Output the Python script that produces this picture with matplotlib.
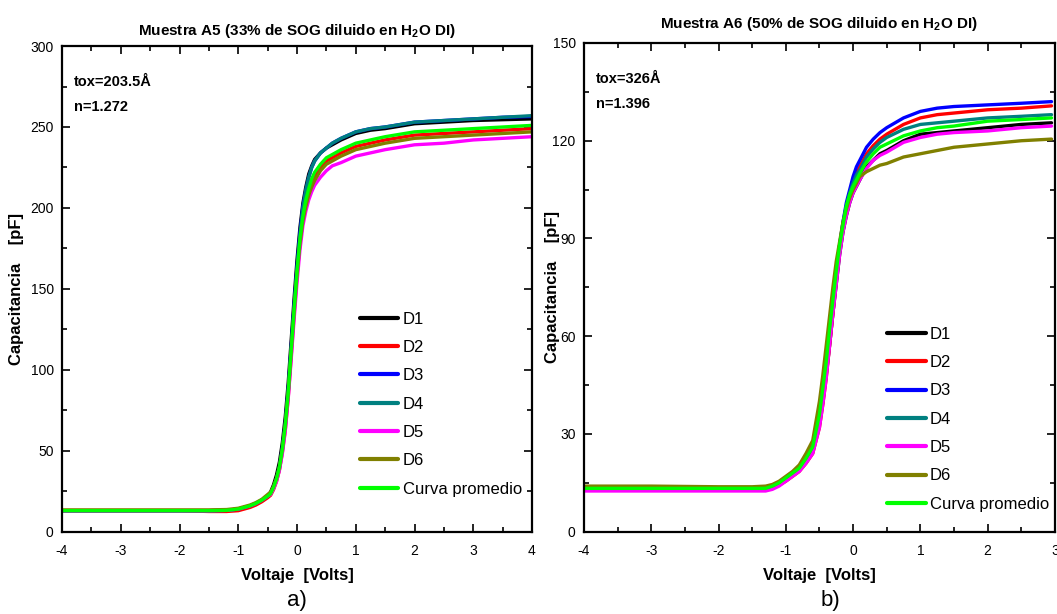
import matplotlib
matplotlib.use("Agg")
from matplotlib import pyplot as plt
from matplotlib.ticker import MultipleLocator

plt.rcParams['font.family'] = ['Liberation Sans', 'DejaVu Sans']
plt.rcParams['mathtext.fontset'] = 'custom'
plt.rcParams['mathtext.rm'] = 'Liberation Sans:bold'
plt.rcParams['mathtext.bf'] = 'Liberation Sans:bold'
plt.rcParams['axes.unicode_minus'] = False

labels = ["D1", "D2", "D3", "D4", "D5", "D6", "Curva promedio"]
colors = ["#000000", "#ff0000", "#0000ff", "#008080", "#ff00ff", "#808000", "#00ff00"]

# Muestra A5
v_a5 = [-4, -3, -2, -1.5, -1.2, -1, -0.9, -0.8, -0.7, -0.6, -0.5, -0.45, -0.4, -0.35,
        -0.3, -0.25, -0.2, -0.15, -0.1, -0.05, 0, 0.05, 0.1, 0.15, 0.2, 0.25,
        0.3, 0.4, 0.5, 0.6, 0.75, 1, 1.25, 1.5, 2, 2.5, 3, 3.5, 4]
a5_d1 = [13, 13, 13, 13, 13.2, 14, 15, 16, 17.5, 19.5, 22, 24.5, 29, 35, 43, 55, 71, 92, 118, 144,
         168, 188, 203, 213, 221, 226, 230, 234, 237, 239, 242, 246, 248, 249, 252, 253, 254, 254.5, 255]
a5_d2 = [13, 13, 13, 12.5, 12.5, 13, 14, 15, 16.5, 18.5, 21, 22.5, 26, 31, 38, 49, 63, 83, 108, 134,
         158, 178, 193, 203, 210, 215, 219, 225, 229, 231, 234, 238, 240, 242, 245, 246, 247, 248, 249]
a5_d3 = [13, 13, 13, 13, 13.2, 14, 15, 16, 17.5, 19.5, 22, 23.5, 27.5, 33, 40, 52, 67, 88, 114, 140,
         164, 185, 201, 211, 219, 225, 229, 234, 237, 240, 243, 247, 249, 250, 253, 254, 255, 256, 256.5]
a5_d4 = [13, 13, 13, 13, 13.2, 14, 15, 16, 17.5, 19.5, 22, 23.5, 27, 32, 39, 50, 65, 86, 112, 138,
         162, 183, 200, 211, 219, 225, 229, 234, 237, 240, 243, 247, 249, 250, 253, 254, 255, 256, 257]
a5_d5 = [13, 13, 13, 13, 13.2, 14, 15, 16, 17.5, 19.5, 22, 23, 26.5, 31, 38, 48, 62, 82, 106, 131,
         154, 174, 189, 198, 205, 210, 214, 219, 223, 226, 228, 232, 234, 236, 239, 240, 242, 243, 244]
a5_d6 = [13.5, 13.5, 13.5, 13.5, 13.7, 14.5, 15.5, 16.5, 18, 20, 23, 24.5, 28, 33, 40, 51, 66, 86, 111, 136,
         159, 178, 192, 201, 208, 213, 217, 223, 227, 229, 232, 236, 238, 240, 243, 244, 245, 246, 247]
a5_avg = [13, 13, 13, 13, 13.2, 14, 15, 16, 17.5, 19.5, 22, 23.5, 27.5, 32.5, 40, 51, 66, 86, 112, 137,
          161, 181, 195, 205, 212, 218, 222, 227, 231, 233, 236, 240, 242, 244, 247, 248, 249, 250, 251]

# Muestra A6
v_a6 = [-4, -3, -2, -1.5, -1.3, -1.2, -1.1, -1, -0.9, -0.8, -0.7, -0.6, -0.5, -0.45, -0.4,
        -0.35, -0.3, -0.25, -0.2, -0.15, -0.1, -0.05, 0, 0.05, 0.1, 0.2, 0.3, 0.4, 0.5,
        0.75, 1, 1.25, 1.5, 2, 2.5, 2.95]
a6_d1 = [13, 13, 13, 13, 13, 13.5, 14.5, 16, 17.5, 19, 21.5, 25, 33, 40, 48, 57, 67, 76, 85, 92,
         97, 101, 104, 106, 108, 112, 114, 116, 117, 120, 122, 122.5, 123, 124, 125, 125.5]
a6_d2 = [13, 13, 13, 13, 13, 13.5, 14.3, 15.5, 17, 18.5, 21, 24, 32, 39, 47, 57, 67, 77, 86, 93,
         99, 103, 107, 110, 112, 116, 118.5, 120.5, 122, 125, 127, 128, 128.5, 129.5, 130, 130.7]
a6_d3 = [13, 13, 13, 13, 13, 13.5, 14.5, 16, 17.5, 19, 21.5, 25, 34, 42, 50, 60, 70, 80, 88, 95,
         101, 105, 109, 112, 114, 118, 120.5, 122.5, 124, 127, 129, 130, 130.5, 131, 131.5, 132]
a6_d4 = [13.5, 13.5, 13.5, 13.5, 13.5, 14, 15, 16.5, 18, 19.5, 22.5, 26, 35, 43, 51, 61, 71, 80, 88, 95,
         100, 104, 107, 109.5, 111, 115, 117.5, 119.5, 121, 123.5, 125, 125.5, 126, 127, 127.5, 128]
a6_d5 = [12.5, 12.5, 12.5, 12.5, 12.5, 13, 14, 15.5, 17, 18.5, 21, 24, 32, 39, 47, 57, 67, 76, 85, 92,
         97, 101, 104, 106, 108, 111.5, 114, 115.5, 116.5, 119.5, 121, 122, 122.5, 123, 124, 124.5]
a6_d6 = [14, 14, 13.8, 13.8, 14, 14.5, 15.5, 17, 18.5, 20.5, 24, 28, 40, 48, 57, 66, 75, 83, 89, 95,
         99, 102.5, 105, 107, 109, 110.5, 111.5, 112.5, 113, 115, 116, 117, 118, 119, 120, 120.5]
a6_avg = [13.3, 13.3, 13.3, 13.3, 13.3, 14, 15, 16.5, 18, 19.5, 22.5, 26, 36, 44, 52, 62, 71, 80, 88, 94,
          100, 103.5, 106, 108, 110, 113.5, 116, 118, 119, 121.5, 123, 124, 124.5, 126, 126.5, 127]

fig = plt.figure(figsize=(10.57, 6.14), dpi=100)
ax1 = fig.add_axes([0.0587, 0.134, 0.4446, 0.791])
ax2 = fig.add_axes([0.5525, 0.134, 0.4455, 0.796])


def draw_panel(ax, v, curves, xlim, ylim, ymajor, yminor, title, note, leg_anchor,
               title_pad, ylab_x):
    for y, lab, c in zip(curves, labels, colors):
        ax.plot(v, y, color=c, lw=2.4, label=lab, solid_capstyle='round',
                solid_joinstyle='round')
    ax.set_xlim(*xlim)
    ax.set_ylim(*ylim)
    ax.xaxis.set_major_locator(MultipleLocator(1))
    ax.xaxis.set_minor_locator(MultipleLocator(0.5))
    ax.yaxis.set_major_locator(MultipleLocator(ymajor))
    ax.yaxis.set_minor_locator(MultipleLocator(yminor))
    ax.tick_params(which='both', direction='in', top=True, right=True, labelsize=10)
    ax.tick_params(which='major', length=6, width=1.2)
    ax.tick_params(axis='x', which='major', pad=9)
    ax.tick_params(axis='y', which='major', pad=6)
    ax.tick_params(which='minor', length=3.5, width=1.2)
    for s in ax.spines.values():
        s.set_linewidth(1.6)
    ax.set_title(title, fontsize=11, fontweight='bold', pad=title_pad)
    ax.set_xlabel("Voltaje  [Volts]", fontsize=12, fontweight='bold', labelpad=7)
    ax.set_ylabel("Capacitancia    [pF]", fontsize=12, fontweight='bold')
    ax.yaxis.set_label_coords(ylab_x, 0.5)
    ax.text(0.025, 0.94, note, transform=ax.transAxes, fontsize=10.5,
            fontweight='bold', va='top', linespacing=2.0)
    leg = ax.legend(loc='upper left', bbox_to_anchor=leg_anchor, frameon=False,
                    fontsize=12, handlelength=2.3, handletextpad=0.25,
                    labelspacing=0.8, borderaxespad=0)
    for line in leg.get_lines():
        line.set_linewidth(3)


draw_panel(ax1, v_a5, [a5_d1, a5_d2, a5_d3, a5_d4, a5_d5, a5_d6, a5_avg],
           (-4, 4), (0, 300), 50, 25,
           "Muestra A5 (33% de SOG diluido en H$_2$O DI)",
           "tox=203.5Å\nn=1.272", (0.62, 0.467), 8, -0.082)
draw_panel(ax2, v_a6, [a6_d1, a6_d2, a6_d3, a6_d4, a6_d5, a6_d6, a6_avg],
           (-4, 3), (0, 150), 30, 15,
           "Muestra A6 (50% de SOG diluido en H$_2$O DI)",
           "tox=326Å\nn=1.396", (0.63, 0.433), 11, -0.052)

fig.text(0.281, 0.022, "a)", ha='center', va='center', fontsize=16)
fig.text(0.786, 0.022, "b)", ha='center', va='center', fontsize=16)

fig.savefig("out.png", dpi=100)
